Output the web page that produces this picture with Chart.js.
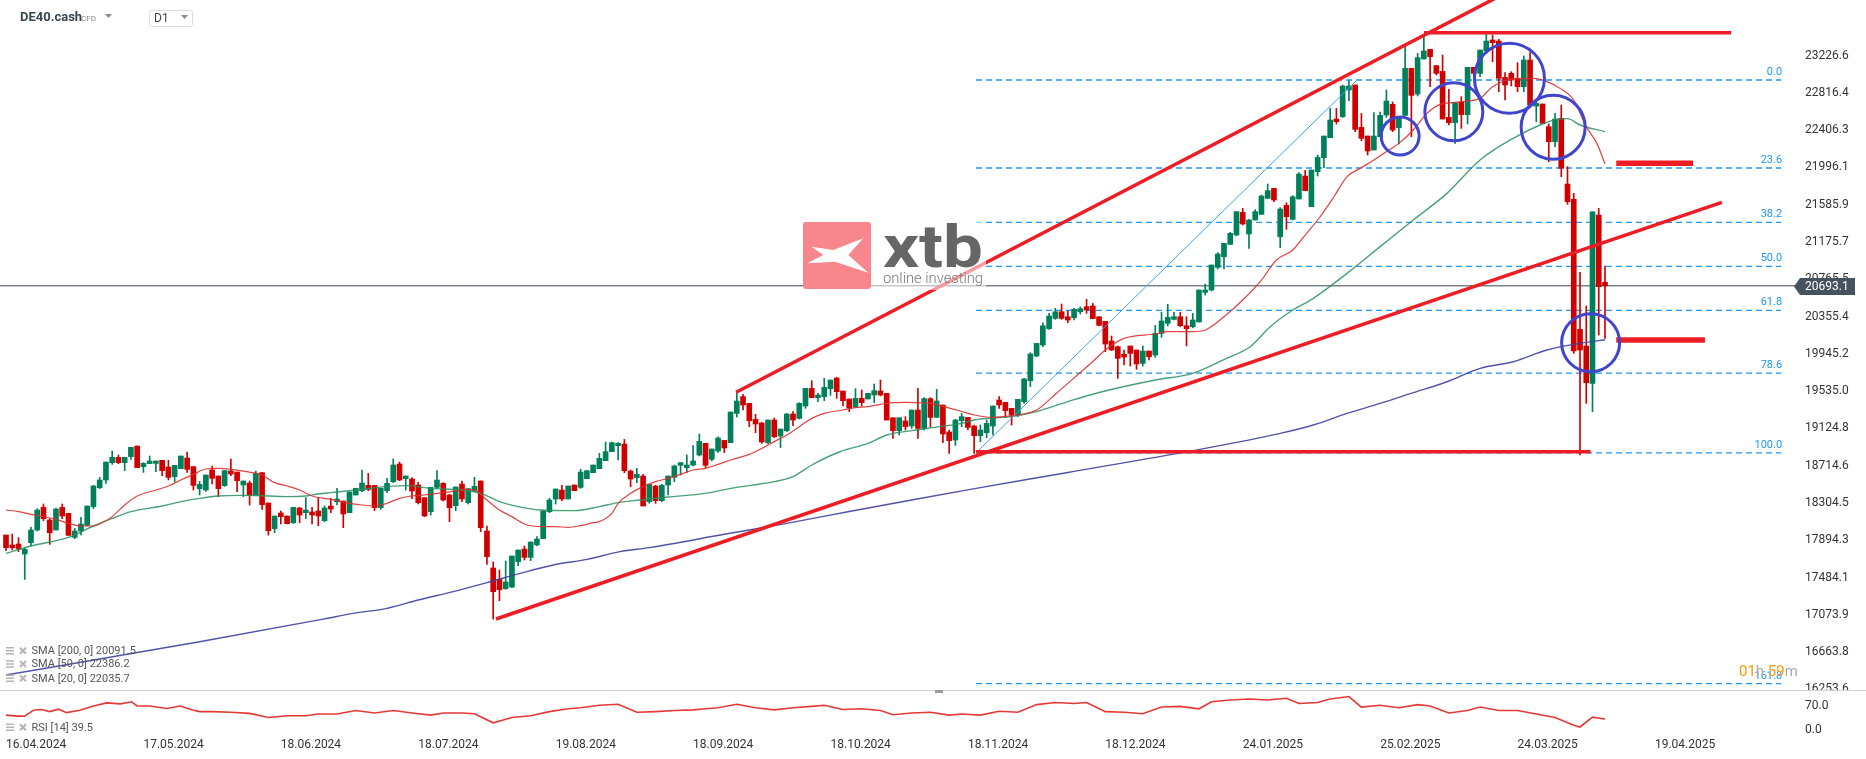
<!DOCTYPE html>
<html><head><meta charset="utf-8">
<script src="https://cdn.jsdelivr.net/npm/chart.js@4.4.1/dist/chart.umd.min.js"></script>
<style>
html,body{margin:0;padding:0;background:#fff;overflow:hidden}
#wrap{position:relative;width:1866px;height:759px;background:#fff}
#cA{position:absolute;left:0;top:0}
#cB{position:absolute;left:0;top:690px}
</style></head><body>
<div id="wrap"><canvas id="cA" width="1866" height="690"></canvas><canvas id="cB" width="1866" height="69"></canvas></div>
<script>
// ---------------- DATA ----------------
const opens = [
17952,17842,17853,17743,17868,18007,18256,18117,18007,18256,
18190,17926,17996,18058,18264,18473,18557,18748,18806,18748,
18814,18931,18704,18737,18740,18773,18700,18594,18682,18799,
18704,18462,18447,18667,18601,18495,18656,18645,18502,18524,
18392,18638,18304,18022,18194,18161,18087,18249,18198,18205,
18216,18110,18271,18319,18326,18198,18392,18440,18498,18498,
18253,18440,18539,18733,18572,18568,18502,18363,18209,18476,
18520,18392,18275,18513,18308,18436,18546,17996,17589,17464,
17362,17380,17659,17798,17706,17842,17912,18209,18348,18447,
18348,18502,18476,18572,18638,18682,18770,18869,18935,18953,
18656,18583,18601,18319,18491,18330,18502,18586,18718,18693,
18722,18832,18960,18784,18876,18993,18968,19290,19474,19400,
19224,19184,18968,19217,19041,19100,19283,19235,19371,19565,
19463,19474,19562,19679,19536,19448,19364,19455,19448,19492,
19536,19510,19242,19100,19206,19151,19327,19125,19452,19246,
19382,19085,18997,19210,19246,19151,19045,19078,19151,19437,
19411,19345,19272,19419,19650,19921,20042,20221,20335,20408,
20353,20342,20408,20463,20471,20353,20302,20086,20023,19939,
20031,19987,19840,19976,19932,20170,20280,20324,20353,20254,
20243,20295,20621,20647,20896,21014,21149,21252,21501,21263,
21417,21479,21655,21765,21233,21578,21424,21648,21901,21564,
21949,22103,22323,22528,22554,22847,22902,22436,22341,22187,
22334,22572,22689,22433,22568,23085,22803,23188,23294,23115,
23052,22546,22488,22715,22576,23096,23030,23276,23397,23386,
22986,23030,22975,22884,23177,22671,22693,22444,22279,22535,
21813,21644,20214,20031,19620,21472,20731];
const highs = [
17952,17963,17923,17816,18036,18242,18293,18132,18249,18293,
18190,18025,18146,18271,18498,18586,18755,18876,18832,18806,
18916,18931,18748,18821,18766,18773,18773,18718,18821,18865,
18704,18542,18612,18711,18601,18660,18788,18645,18546,18546,
18656,18638,18304,18161,18216,18161,18256,18256,18363,18256,
18366,18271,18355,18465,18326,18425,18465,18667,18630,18498,
18465,18575,18788,18755,18601,18583,18531,18363,18476,18660,
18528,18399,18480,18546,18462,18586,18546,18051,17655,17567,
17666,17721,17787,17831,17875,17934,18216,18355,18458,18498,
18491,18502,18674,18660,18722,18850,18975,18975,18968,19004,
18667,18685,18619,18509,18500,18510,18601,18722,18748,18832,
18935,19063,18960,18898,19033,18993,19305,19518,19499,19400,
19279,19191,19217,19239,19118,19290,19309,19408,19565,19650,
19510,19675,19657,19686,19536,19448,19562,19547,19510,19613,
19657,19510,19242,19242,19254,19327,19565,19463,19463,19554,
19382,19107,19224,19290,19246,19162,19162,19217,19371,19474,
19411,19345,19444,19675,19958,20060,20287,20390,20445,20493,
20419,20445,20463,20544,20500,20353,20302,20141,20031,19987,
20031,19987,20031,19976,20258,20401,20489,20401,20401,20353,
20390,20647,20713,20922,21058,21160,21281,21509,21545,21424,
21531,21692,21813,21765,21553,21607,21684,21938,21963,21967,
22132,22341,22645,22645,22902,22950,22902,22590,22341,22598,
22605,22847,22715,22554,23331,23085,23250,23434,23294,23115,
23232,22854,22708,22774,23096,23096,23287,23459,23452,23404,
23038,23049,23148,23221,23258,22737,22693,22473,22590,22682,
22004,21710,20841,20471,21508,21545,20911];
const lows = [
17780,17787,17769,17464,17831,17996,18110,17849,18007,18132,
17948,17912,17952,18051,18242,18462,18520,18729,18737,18660,
18784,18693,18641,18737,18649,18605,18557,18539,18682,18641,
18447,18392,18432,18513,18374,18487,18605,18429,18374,18282,
18392,18234,17952,17977,18073,18073,18080,18087,18132,18073,
18055,18099,18198,18282,18033,18198,18392,18429,18440,18220,
18234,18418,18528,18550,18447,18352,18293,18154,18172,18465,
18326,18099,18220,18319,18293,18436,17989,17629,17028,17229,
17354,17373,17615,17677,17670,17835,17912,18198,18293,18330,
18348,18440,18465,18572,18638,18682,18770,18869,18777,18638,
18484,18528,18271,18300,18300,18320,18392,18539,18612,18638,
18711,18821,18693,18766,18861,18858,18968,19250,19327,19144,
19078,18960,18953,19023,18913,19089,19155,19228,19345,19463,
19419,19430,19488,19455,19371,19309,19353,19371,19448,19408,
19481,19217,19015,19052,19107,19125,19015,19107,19144,19246,
18968,18850,18938,19143,19107,18850,18979,19023,19052,19345,
19246,19162,19254,19400,19584,19914,20023,20214,20324,20324,
20287,20317,20383,20390,20331,20251,19969,19980,19675,19822,
19811,19774,19811,19877,19906,20126,20251,20317,20243,20031,
20232,20295,20592,20636,20878,20878,21149,21245,21362,21105,
21417,21479,21655,21619,21112,21314,21417,21648,21740,21564,
21901,21993,22323,22473,22546,22730,22389,22290,22132,22187,
22334,22546,22389,22253,22568,22334,22781,23188,22884,23012,
22528,22462,22260,22425,22473,23012,22994,23250,23159,22829,
22737,22891,22829,22829,22664,22499,22480,22058,22224,21893,
21589,19950,18832,19400,19308,20152,20115];
const closes = [
17813,17813,17798,17794,18007,18227,18132,17978,18238,18161,
17948,17996,18073,18271,18491,18557,18755,18806,18748,18806,
18916,18693,18740,18766,18766,18660,18586,18718,18821,18674,
18498,18509,18612,18575,18462,18660,18623,18550,18546,18388,
18630,18286,17999,18161,18154,18077,18256,18172,18227,18172,
18161,18249,18238,18348,18183,18425,18465,18524,18454,18253,
18465,18520,18722,18557,18601,18436,18308,18161,18476,18557,
18337,18253,18480,18348,18462,18487,18033,17714,17328,17350,
17435,17721,17787,17706,17875,17908,18216,18337,18458,18348,
18491,18440,18645,18660,18722,18795,18869,18968,18960,18660,
18568,18619,18271,18509,18330,18498,18601,18711,18748,18722,
18766,18982,18718,18898,19019,18909,19305,19426,19382,19209,
19173,18975,19217,19034,19118,19283,19217,19400,19565,19463,
19492,19576,19657,19529,19430,19349,19455,19408,19510,19540,
19492,19217,19100,19242,19144,19327,19125,19452,19246,19426,
19063,18990,19217,19254,19136,19045,19107,19180,19371,19382,
19320,19272,19444,19668,19943,20060,20254,20361,20408,20335,
20317,20434,20441,20427,20331,20258,20053,19987,19895,19910,
19950,19833,19976,19913,20170,20306,20346,20353,20254,20221,
20317,20647,20647,20922,21043,21160,21270,21509,21373,21417,
21509,21681,21740,21637,21538,21453,21673,21923,21740,21967,
22106,22341,22517,22499,22891,22891,22414,22315,22176,22341,
22568,22726,22407,22554,23085,22788,23203,23276,23214,23030,
22528,22488,22708,22576,23096,23030,23287,23386,23368,22975,
22902,22957,22884,23177,22682,22700,22480,22279,22528,21985,
21619,19976,19987,19627,21508,20684,20693];

// SMA lines: [candle index, value]
const sma20 = [[0,18227],[2,18209],[4,18179],[6,18154],[8,18124],[10,18080],[12,18051],[14,18051],[15,18073],[17,18154],[19,18282],[21,18381],[24,18447],[26,18491],[28,18557],[30,18619],[32,18678],[34,18685],[36,18674],[38.5,18649],[41,18612],[43,18528],[45,18491],[47,18447],[49,18381],[52,18344],[55,18300],[57,18282],[59,18271],[61,18300],[63,18355],[65,18381],[67,18392],[70,18418],[72,18436],[74,18454],[75,18447],[77,18337],[79,18227],[81,18154],[83,18073],[86,18044],[88,18044],[90,18036],[92,18055],[94,18088],[95,18099],[97,18190],[98,18300],[100,18410],[102,18484],[104,18539],[106,18575],[108,18619],[110,18667],[112,18685],[114,18729],[116,18777],[119,18839],[121,18905],[123,18979],[125,19052],[127,19144],[129,19235],[131,19290],[134,19327],[136,19353],[138,19364],[140,19389],[142,19408],[144,19411],[146,19408],[148,19400],[150.6,19356],[152.8,19316],[155,19272],[158,19246],[161,19265],[165,19327],[168,19500],[171,19680],[174,19860],[176,19987],[179,20115],[184,20163],[186,20189],[190,20189],[192,20207],[195,20353],[198,20537],[201,20757],[203.4,20977],[206,21087],[208,21252],[210.4,21453],[212.6,21673],[214.7,21894],[216.8,21985],[219,22077],[221,22169],[223,22260],[225.3,22407],[227.5,22590],[229.6,22689],[231.7,22708],[233.9,22726],[236,22755],[238,22884],[240.3,22957],[242.4,22972],[244.6,22975],[246.7,22939],[248.8,22865],[251,22737],[253,22444],[254.7,22260],[256,22036]];
const sma50 = [[0,17750],[4,17831],[10,17926],[14,18051],[17,18135],[20,18209],[25,18271],[28,18319],[31,18355],[34,18381],[37.5,18388],[42,18381],[45,18374],[48,18381],[50,18403],[52,18418],[56,18447],[61,18484],[64,18495],[68,18465],[73,18447],[76,18410],[79,18319],[82,18264],[85.5,18227],[91,18220],[95,18264],[98,18308],[101.5,18337],[106,18370],[112,18410],[116,18465],[123,18539],[126,18594],[129,18722],[133.5,18868],[138,18960],[141,19052],[145,19100],[149.5,19144],[153,19180],[155,19217],[161.5,19261],[165,19310],[170,19420],[175,19520],[184,19657],[190,19730],[195.4,19895],[199.2,20023],[202.4,20243],[205.6,20408],[209.3,20555],[214.7,20830],[220,21124],[225.3,21417],[230.7,21710],[236,22077],[241.3,22315],[245.6,22462],[248.3,22524],[250,22532],[252,22462],[256,22389]];
const sma200 = [[0,16412],[31,16778],[51,17030],[55.6,17090],[61,17145],[66,17237],[71.6,17329],[77,17428],[82.3,17530],[87.6,17622],[93,17684],[98.3,17769],[103,17813],[115,17960],[125,18080],[135,18210],[145,18337],[154.4,18454],[170,18640],[190,18880],[204,19070],[209.3,19162],[214.7,19290],[220,19400],[225.3,19518],[230.7,19638],[236,19785],[241.3,19858],[246.7,19987],[252,20060],[256,20100]];
const rsi14 = [[0,44],[1.8,41],[3,41],[4.4,58],[5.7,60],[7,54],[8.4,61],[9.7,51],[11.8,58],[14,70],[16.1,79],[18.3,76],[20.1,82],[21,70],[23,70],[25.7,63],[27.9,70],[30,58],[31,54],[33,54],[36,52],[39,49],[42,37],[45,42],[48,42],[50,47],[53,47],[56,57],[59,50],[62,57],[65,50],[68,44],[70,50],[73,50],[75,48],[78,22],[81,37],[84,42],[87,54],[90,62],[92,65],[95,72],[98,75],[101,52],[104,54],[107,57],[110,59],[112,62],[114,65],[117,75],[120,65],[123,59],[126,65],[129,69],[131,72],[134,60],[137,62],[140,57],[142,45],[145,50],[148,52],[151,44],[153,47],[156,44],[159,55],[162,52],[165,74],[168,80],[171,77],[173,80],[176,54],[179,52],[182,48],[185,67],[188,69],[191,62],[193,82],[196,87],[199,90],[202,87],[205,92],[207,77],[210,80],[212,90],[215,97],[217,67],[220,72],[223,65],[226,74],[228,70],[231,50],[234,57],[236,67],[239,57],[242,57],[245,47],[248,37],[251,15],[252,10],[254,38],[256,33]];

const dateTickIdx = [0,22,44,66,88,110,132,154,176,198,220,242,264];
const dateLabels = ['16.04.2024','17.05.2024','18.06.2024','18.07.2024','19.08.2024','18.09.2024','18.10.2024','18.11.2024','18.12.2024','24.01.2025','25.02.2025','24.03.2025','19.04.2025'];
const priceTickLabels = ['23226.6','22816.4','22406.3','21996.1','21585.9','21175.7','20765.5','20355.4','19945.2','19535.0','19124.8','18714.6','18304.5','17894.3','17484.1','17073.9','16663.8','16253.6'];
const rsiTickValues = [70, 0];
const lastPrice = 20693.1;

// Fibonacci retracement (levels and the prices they sit at)
const fibLabels = ['0.0','23.6','38.2','50.0','61.8','78.6','100.0','161.8'];
const fibPrices = [22957,21989,21390,20906,20422,19733,18855,16318];
const fibSpan = [155.3, 284.2];
// drawn trend lines [x1,y1,x2,y2] in (candle index, price)
const trendLines = [[116.9,19522,240,23912],[78.45,17028,274.7,21610],[227,23477,276.2,23477],[155.3,18868,253.7,18868]];
const levelMarks = [[257.8,22041,270.1,22041],[257.8,20097,272,20097]];
const fibDiagonal = [155.3,18855,216.3,22957];
const circleIdx = [223.2,231.8,240.7,247.7,253.7];
const circlePrices = [22341,22608,22976,22437,20067];
const legendTexts = ['SMA [200, 0] 20091.5','SMA [50, 0] 22386.2','SMA [20, 0] 22035.7'];
const rsiLegend = 'RSI [14] 39.5';

// ---------------- STYLE ----------------
const GREEN = '#00805a', RED = '#d00000';
const X_MIN = -0.961, X_MAX = 286.42;
const Y_MIN = 16247.1, Y_MAX = 23837.1;
const RSI_MIN = -12.86, RSI_MAX = 115.71;
const FONT = 'Roboto';
const circleRadii = [19,29,35,32,29];

const idx = opens.map((_, i) => i);
const candleColors = idx.map(i => closes[i] >= opens[i] ? GREEN : RED);
const pts = arr => arr.map(p => ({x: p[0], y: p[1]}));
const seg = s => [{x: s[0], y: s[1]}, {x: s[2], y: s[3]}];

const datasets = [];
datasets.push({type:'line', data:[{x:X_MIN,y:lastPrice},{x:X_MAX,y:lastPrice}], borderColor:'#3b4853', borderWidth:1, pointRadius:0, order:100});
fibPrices.forEach(p => datasets.push({type:'line', data:[{x:fibSpan[0],y:p},{x:fibSpan[1],y:p}], borderColor:'#2196f3', borderWidth:1.3, borderDash:[6,4], pointRadius:0, order:95}));
datasets.push({type:'bar', data: idx.map(i => ({x:i, y:[Math.min(lows[i],opens[i],closes[i]), Math.max(highs[i],opens[i],closes[i])]})), backgroundColor:candleColors, barThickness:1, grouped:false, order:90});
datasets.push({type:'bar', data: idx.map(i => ({x:i, y:[opens[i], closes[i]]})), backgroundColor:candleColors, barThickness:5, grouped:false, order:89});
datasets.push({type:'line', data:pts(sma200), borderColor:'rgba(62,64,160,0.9)', borderWidth:1.4, pointRadius:0, cubicInterpolationMode:'monotone', order:80});
datasets.push({type:'line', data:pts(sma50), borderColor:'rgba(40,145,95,0.85)', borderWidth:1.4, pointRadius:0, cubicInterpolationMode:'monotone', order:79});
datasets.push({type:'line', data:pts(sma20), borderColor:'rgba(222,45,45,0.9)', borderWidth:1.2, pointRadius:0, cubicInterpolationMode:'monotone', order:78});
datasets.push({type:'line', data:seg(fibDiagonal), borderColor:'#3fa2f2', borderWidth:1, pointRadius:0, order:70});
trendLines.forEach(s => datasets.push({type:'line', data:seg(s), borderColor:'#ee1d25', borderWidth:3.5, pointRadius:0, order:60}));
levelMarks.forEach(s => datasets.push({type:'line', data:seg(s), borderColor:'#ee1d25', borderWidth:5.5, pointRadius:0, order:60}));
datasets.push({type:'line', showLine:false, data: circleIdx.map((x,k)=>({x, y:circlePrices[k]})), pointRadius:circleRadii, pointBorderWidth:3, pointBorderColor:'#3f45cc', pointBackgroundColor:'rgba(0,0,0,0)', order:50, clip:false});

function rr(ctx,x,y,w,h,r){ctx.beginPath();ctx.moveTo(x+r,y);ctx.lineTo(x+w-r,y);ctx.quadraticCurveTo(x+w,y,x+w,y+r);ctx.lineTo(x+w,y+h-r);ctx.quadraticCurveTo(x+w,y+h,x+w-r,y+h);ctx.lineTo(x+r,y+h);ctx.quadraticCurveTo(x,y+h,x,y+h-r);ctx.lineTo(x,y+r);ctx.quadraticCurveTo(x,y,x+r,y);ctx.closePath();}
function tri(ctx,x,y,c){ctx.fillStyle=c;ctx.beginPath();ctx.moveTo(x,y);ctx.lineTo(x+7,y);ctx.lineTo(x+3.5,y+4);ctx.closePath();ctx.fill();}
function legendIcons(ctx,y){
  ctx.strokeStyle='#b5b5b5';ctx.lineWidth=1.5;ctx.beginPath();
  [-3,0,3].forEach(d=>{ctx.moveTo(6,y+d);ctx.lineTo(14,y+d);});ctx.stroke();
  ctx.lineWidth=2;ctx.beginPath();ctx.moveTo(20,y-3);ctx.lineTo(26,y+3);ctx.moveTo(26,y-3);ctx.lineTo(20,y+3);ctx.stroke();
}

const overlayA = {
  id:'overlayA',
  afterDatasetsDraw(chart){
    const {ctx, scales:{x, y}} = chart;
    ctx.save();
    ctx.font = '11px '+FONT; ctx.fillStyle = '#2196f3'; ctx.textAlign='right'; ctx.textBaseline='alphabetic';
    const xr = x.getPixelForValue(fibSpan[1]) + 1;
    fibPrices.forEach((p,k)=> ctx.fillText(fibLabels[k], xr, y.getPixelForValue(p) - 5));
    ctx.fillStyle='rgba(255,255,255,0.55)'; ctx.fillRect(803,221,183,69);
    ctx.fillStyle='#f8868d'; rr(ctx,803,222,68,67,3); ctx.fill();
    ctx.fillStyle='#ffffff'; ctx.beginPath();
    [[811.7,246.7],[833.3,250],[863.3,238.3],[848.3,255],[868.3,272.7],[835,261.7],[807.3,263.3],[823.3,255]].forEach((p,k)=>k?ctx.lineTo(p[0],p[1]):ctx.moveTo(p[0],p[1]));
    ctx.closePath(); ctx.fill();
    ctx.fillStyle='#666'; ctx.textAlign='left';
    ctx.font='bold 60px '+FONT; let w=ctx.measureText('xtb').width;
    ctx.save(); ctx.translate(883,267); ctx.scale(100/w,1); ctx.fillText('xtb',0,0); ctx.restore();
    ctx.fillStyle='#777'; ctx.font='300 15px '+FONT; w=ctx.measureText('online investing').width;
    ctx.save(); ctx.translate(883,283); ctx.scale(100/w,1); ctx.fillText('online investing',0,0); ctx.restore();
    ctx.restore();
  },
  afterDraw(chart){
    const {ctx, scales:{y}} = chart;
    ctx.save();
    const py = Math.round(y.getPixelForValue(lastPrice))+0.5;
    ctx.fillStyle='#46535e'; ctx.beginPath(); ctx.moveTo(1794,py); ctx.lineTo(1800,py-8.5); ctx.lineTo(1855,py-8.5); ctx.lineTo(1855,py+8.5); ctx.lineTo(1800,py+8.5); ctx.closePath(); ctx.fill();
    ctx.fillStyle='#fff'; ctx.font='12px '+FONT; ctx.textAlign='left'; ctx.textBaseline='middle';
    ctx.fillText(lastPrice.toFixed(1), 1805, py+0.5);
    ctx.fillStyle='#37474f'; ctx.font='bold 13px '+FONT; ctx.fillText('DE40.cash', 20, 18);
    ctx.fillStyle='#8a8a8a'; ctx.font='8px '+FONT; ctx.fillText('CFD', 81, 19);
    tri(ctx,105,14,'#8a8a8a');
    ctx.strokeStyle='#dcdcdc'; ctx.lineWidth=1; rr(ctx,149.5,10.5,43,16,2); ctx.stroke();
    ctx.fillStyle='#444'; ctx.font='12px '+FONT; ctx.fillText('D1', 154, 19);
    tri(ctx,181,15,'#8a8a8a');
    ctx.font='11px '+FONT; ctx.textBaseline='middle';
    [650.7,664,678.3].forEach((yy,k)=>{ legendIcons(ctx,yy); ctx.fillStyle='#555'; ctx.fillText(legendTexts[k], 31.5, yy+0.5); });
    ctx.font='15px '+FONT; ctx.textBaseline='alphabetic';
    let cx = 1739;
    [['01','#ff9800'],['h','#aaaaaa'],[' 59','#ff9800'],['m','#aaaaaa']].forEach(([t,c])=>{ctx.fillStyle=c; ctx.fillText(t,cx,676); cx+=ctx.measureText(t).width;});
    ctx.restore();
  }
};

new Chart(document.getElementById('cA'), {
  type:'bar',
  data:{datasets},
  options:{
    responsive:false, animation:false, events:[], devicePixelRatio:1,
    layout:{padding:0, autoPadding:false},
    plugins:{legend:{display:false}, tooltip:{enabled:false}},
    scales:{
      x:{type:'linear', min:X_MIN, max:X_MAX, offset:false, display:false, grid:{display:false}},
      y:{type:'linear', position:'right', min:Y_MIN, max:Y_MAX, grid:{display:false, drawTicks:false}, border:{display:false},
         afterBuildTicks:s=>{ s.ticks = priceTickLabels.map(t=>({value:Number(t)})); },
         afterFit:s=>{ s.width=71; s.paddingTop=0; s.paddingBottom=0; },
         ticks:{padding:10, color:'#333', font:{family:FONT, size:12}, autoSkip:false, callback:(v,i)=>priceTickLabels[i]}}
    }
  },
  plugins:[overlayA]
});

const overlayB = {
  id:'overlayB',
  afterDraw(chart){
    const ctx = chart.ctx; ctx.save();
    ctx.strokeStyle='#d2d2d2'; ctx.lineWidth=1; ctx.beginPath(); ctx.moveTo(0,0.5); ctx.lineTo(1866,0.5); ctx.stroke();
    ctx.fillStyle='#9a9a9a'; ctx.fillRect(935,0,8,3);
    ctx.font='11px '+FONT; ctx.textBaseline='middle'; legendIcons(ctx,37.3);
    ctx.fillStyle='#555'; ctx.fillText(rsiLegend, 31.5, 37.8);
    ctx.restore();
  }
};

new Chart(document.getElementById('cB'), {
  type:'line',
  data:{datasets:[{data:pts(rsi14), borderColor:'#e53935', borderWidth:1.6, pointRadius:0}]},
  options:{
    responsive:false, animation:false, events:[], devicePixelRatio:1,
    layout:{padding:0, autoPadding:false},
    plugins:{legend:{display:false}, tooltip:{enabled:false}},
    scales:{
      x:{type:'linear', min:X_MIN, max:X_MAX, offset:false, grid:{display:false, drawTicks:false}, border:{display:false},
         afterBuildTicks:s=>{ s.ticks = dateTickIdx.map(v=>({value:v})); },
         afterFit:s=>{ s.height=24; s.paddingLeft=0; s.paddingRight=0; },
         ticks:{align:'start', padding:3, maxRotation:0, autoSkip:false, color:'#333', font:{family:FONT, size:12}, callback:(v,i)=>dateLabels[i]}},
      y:{type:'linear', position:'right', min:RSI_MIN, max:RSI_MAX, grid:{display:false, drawTicks:false}, border:{display:false},
         afterBuildTicks:s=>{ s.ticks = rsiTickValues.map(v=>({value:v})); },
         afterFit:s=>{ s.width=71; s.paddingTop=0; s.paddingBottom=0; },
         ticks:{padding:10, color:'#333', font:{family:FONT, size:12}, autoSkip:false, callback:v=>Number(v).toFixed(1)}}
    }
  },
  plugins:[overlayB]
});
</script>
</body></html>
